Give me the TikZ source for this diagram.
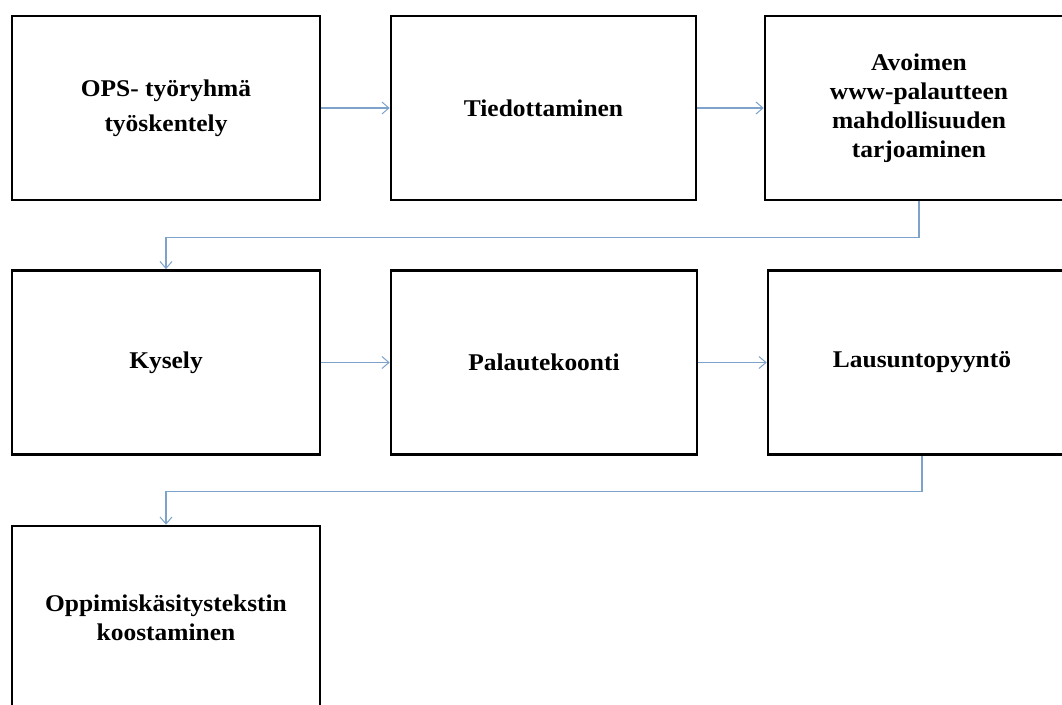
\documentclass[tikz,border=0pt]{standalone}
\usepackage{fontspec}
\setmainfont{Liberation Serif}[FakeStretch=1.06]
\usetikzlibrary{arrows.meta}
\definecolor{connblue}{RGB}{125,163,203}
\tikzset{
  box/.style={draw=black, line width=2.6pt, minimum width=308pt, minimum height=184pt,
    inner sep=0pt, align=center, font=\fontsize{24}{29}\selectfont\bfseries},
  conn/.style={draw=connblue, line width=1.1pt, -{Straight Barb[length=7pt,width=12pt,line width=1pt]}}
}
\begin{document}
\begin{tikzpicture}[x=1pt,y=-1pt]
\useasboundingbox (0,0) rectangle (1062,704);
\fill[white] (0,0) rectangle (1062,704);
\node[box] (b1) at (166,108) {OPS- työryhmä\\[6pt]työskentely};
\node[box, minimum width=305pt] (b2) at (543.5,108) {Tiedottaminen};
\node[box] (b3) at (919,108) {Avoimen\\www-palautteen\\mahdollisuuden\\tarjoaminen};
\node[box] (b4) at (166,362.5) {Kysely};
\node[box, minimum width=306pt] (b5) at (544,362.5) {Palautekoonti};
\node[box] (b6) at (922,362.5) {Lausuntopyyntö};
\node[box] (b7) at (166,618) {Oppimiskäsitystekstin\\koostaminen};
\draw[conn] (b1.east) -- (b2.west);
\draw[conn] (b2.east) -- (b3.west);
\draw[conn] (b3.south) -- ++(0,36) -| (b4.north);
\draw[conn] (b4.east) -- (b5.west);
\draw[conn] (b5.east) -- (b6.west);
\draw[conn] (b6.south) -- ++(0,36) -| (b7.north);
\end{tikzpicture}
\end{document}
